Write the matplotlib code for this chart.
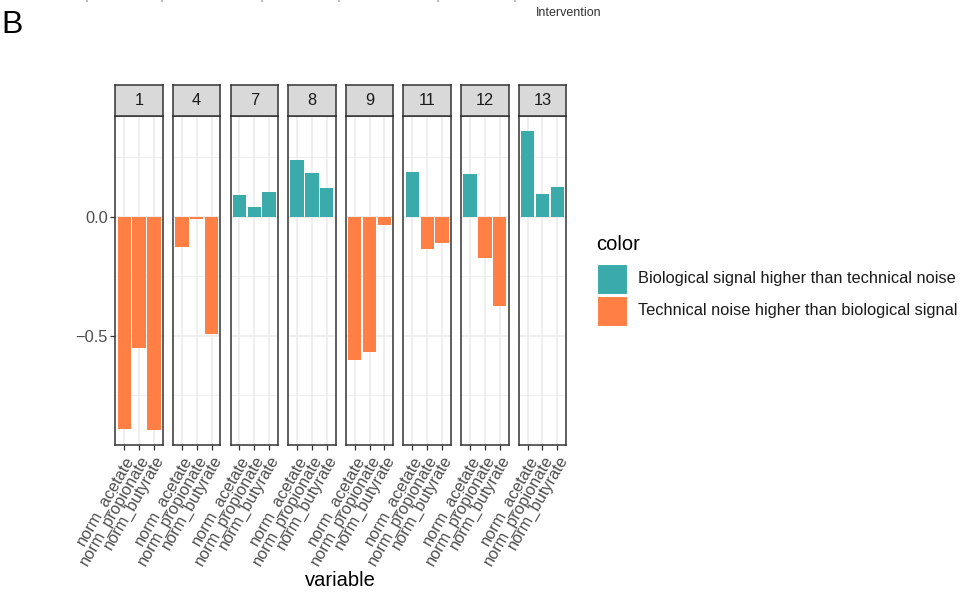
import matplotlib
matplotlib.use("Agg")
import matplotlib.pyplot as plt
from matplotlib.patches import Rectangle
import numpy as np

plt.rcParams['font.family'] = ['Liberation Sans', 'DejaVu Sans']

# Per-subject differences for each normalised short-chain fatty acid
subjects = ["1", "4", "7", "8", "9", "11", "12", "13"]
variables = ["norm_acetate", "norm_propionate", "norm_butyrate"]
values = {
    "1":  [-0.892, -0.552, -0.897],
    "4":  [-0.128, -0.011, -0.493],
    "7":  [0.092, 0.042, 0.105],
    "8":  [0.239, 0.184, 0.122],
    "9":  [-0.602, -0.568, -0.036],
    "11": [0.189, -0.137, -0.112],
    "12": [0.180, -0.175, -0.376],
    "13": [0.360, 0.096, 0.126],
}
legend_labels = ["Biological signal higher than technical noise",
                 "Technical noise higher than biological signal"]
colors = ["#3AAAAB", "#FF7F45"]

W, H = 963, 602
fig = plt.figure(figsize=(W / 100, H / 100), dpi=100)

SMALL = 11.8
TITLE = 14.5


def box(x0, y0, x1, y1):
    return [x0 / W, 1 - y1 / H, (x1 - x0) / W, (y1 - y0) / H]


all_vals = np.concatenate([values[s] for s in subjects])
lo, hi = all_vals.min(), max(all_vals.max(), 0)
pad = (hi - lo) * 0.05
ylim = (lo - pad, hi + pad)

panel_left0 = 115.3
pitch = 57.63
pw = 47.5
ptop, pbot = 116.0, 445.0
strip_top = 85.0
border = "#333333"

for i, s in enumerate(subjects):
    x0 = panel_left0 + i * pitch
    ax = fig.add_axes(box(x0, ptop, x0 + pw, pbot))
    xs = np.arange(1, 4)
    v = np.array(values[s])
    ax.bar(xs, v, width=0.9, color=[colors[0] if t > 0 else colors[1] for t in v],
           zorder=3, linewidth=0)
    ax.set_xlim(0.4, 3.6)
    ax.set_ylim(*ylim)
    # grid
    for gx in xs:
        ax.axvline(gx, color="#EBEBEB", lw=1.1, zorder=1)
    for gy in (0.0, -0.5):
        ax.axhline(gy, color="#EBEBEB", lw=1.1, zorder=1)
    for gy in (0.25, -0.25, -0.75):
        ax.axhline(gy, color="#EBEBEB", lw=0.55, zorder=1)
    for sp in ax.spines.values():
        sp.set_color(border)
        sp.set_linewidth(1.1)
    ax.set_xticks(xs)
    ax.set_xticklabels(variables, rotation=60, ha="right", va="top",
                       rotation_mode="anchor", fontsize=SMALL, color="#4D4D4D")
    ax.tick_params(axis="x", length=3.5, width=0.9, color=border, pad=2.5)
    if i == 0:
        ax.set_yticks([0.0, -0.5])
        ax.set_yticklabels(["0.0", "\u22120.5"], fontsize=SMALL, color="#4D4D4D")
        ax.tick_params(axis="y", length=3.5, width=0.9, color=border, pad=2)
    else:
        ax.set_yticks([])
    # facet strip
    sax = fig.add_axes(box(x0, strip_top, x0 + pw, ptop))
    sax.set_xticks([])
    sax.set_yticks([])
    sax.set_facecolor("#D9D9D9")
    for sp in sax.spines.values():
        sp.set_color(border)
        sp.set_linewidth(1.1)
    sax.text(0.5, 0.5, s, ha="center", va="center", fontsize=SMALL,
             color="#1A1A1A", transform=sax.transAxes)

# axis title
fig.text(340 / W, 1 - 580 / H, "variable", ha="center", va="center",
         fontsize=TITLE, color="black")

# legend
fig.text(596 / W, 1 - 244 / H, "color", ha="left", va="center",
         fontsize=TITLE, color="black")
for k, (lab, c) in enumerate(zip(legend_labels, colors)):
    y0 = 264 + k * 32
    fig.patches.append(Rectangle((597 / W, 1 - (y0 + 30) / H), 30 / W, 30 / H,
                                 transform=fig.transFigure, facecolor=c,
                                 edgecolor="white", lw=0.8))
    fig.text(638 / W, 1 - (y0 + 15) / H, lab, ha="left", va="center",
             fontsize=SMALL, color="#1A1A1A")

# panel tag and fragments of the figure above
fig.text(12.5 / W, 1 - 25 / H, "B", ha="center", va="center", fontsize=23,
         color="black")
fig.text(569 / W, 1 - 13.5 / H, "Intervention", ha="center", va="center",
         fontsize=9, color="#333333")
for xc, t in [(93, "post"), (167, "pre"), (268, "post"), (344, "pre"),
              (444, "post"), (520, "pre")]:
    fig.text(xc / W, 1 - (-1.5) / H, t, ha="center", va="center", fontsize=6,
             color="#555555")

fig.savefig("out.png", dpi=100)
